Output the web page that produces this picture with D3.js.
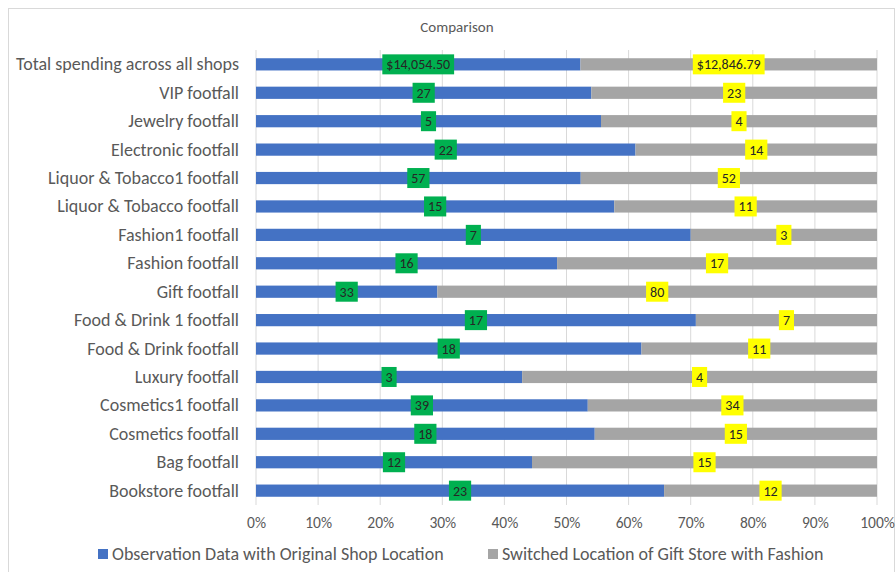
<!DOCTYPE html>
<html>
<head>
<meta charset="utf-8">
<script src="https://cdn.jsdelivr.net/npm/d3@7"></script>
<style>
  body { margin: 0; background: #fff; }
  svg { font-family: Calibri, Carlito, "Liberation Sans", "Open Sans", sans-serif; }
</style>
</head>
<body>
<svg id="chart" width="896" height="572"></svg>
<script>
var categories = [
  'Total spending across all shops', 'VIP footfall', 'Jewelry footfall', 'Electronic footfall',
  'Liquor & Tobacco1 footfall', 'Liquor & Tobacco footfall', 'Fashion1 footfall', 'Fashion footfall',
  'Gift footfall', 'Food & Drink 1 footfall', 'Food & Drink footfall', 'Luxury footfall',
  'Cosmetics1 footfall', 'Cosmetics footfall', 'Bag footfall', 'Bookstore footfall'
];
var original = [14054.50, 27, 5, 22, 57, 15, 7, 16, 33, 17, 18, 3, 39, 18, 12, 23];
var switched = [12846.79, 23, 4, 14, 52, 11, 3, 17, 80, 7, 11, 4, 34, 15, 15, 12];
var seriesNames = ['Observation Data with Original Shop Location', 'Switched Location of Gift Store with Fashion'];
var ticks = [0, 0.1, 0.2, 0.3, 0.4, 0.5, 0.6, 0.7, 0.8, 0.9, 1];

var colors = ['#4472c4', '#a5a5a5'];
var labelBg = ['#00b050', '#ffff00'];
var fontFam = 'Calibri, Carlito, "Liberation Sans", "Open Sans", sans-serif';

var svg = d3.select('#chart');

// outer frame
svg.append('rect')
  .attr('x', 8.5).attr('y', 8.5)
  .attr('width', 886).attr('height', 570)
  .attr('fill', 'none')
  .attr('stroke', '#d9d9d9');

svg.append('text')
  .attr('x', 457).attr('y', 32)
  .attr('text-anchor', 'middle')
  .attr('font-size', 15)
  .attr('fill', '#595959')
  .text('Comparison');

var x = d3.scaleLinear().domain([0, 1]).range([256, 877]);
var y = d3.scaleBand().domain(categories).range([50, 505]).paddingInner(0.57).paddingOuter(0.29);

// gridlines
svg.append('g')
  .selectAll('line')
  .data(ticks)
  .join('line')
  .attr('x1', function(d) { return x(d); })
  .attr('x2', function(d) { return x(d); })
  .attr('y1', 50).attr('y2', 505)
  .attr('stroke', '#d9d9d9')
  .attr('stroke-width', 1);

var rows = categories.map(function(c, i) {
  var total = original[i] + switched[i];
  return { name: c, a: original[i] / total, va: original[i], vb: switched[i] };
});

var bars = svg.append('g');
rows.forEach(function(r) {
  var y0 = y(r.name), bh = y.bandwidth();
  bars.append('rect')
    .attr('x', x(0)).attr('y', y0)
    .attr('width', x(r.a) - x(0)).attr('height', bh)
    .attr('fill', colors[0]);
  bars.append('rect')
    .attr('x', x(r.a)).attr('y', y0)
    .attr('width', x(1) - x(r.a)).attr('height', bh)
    .attr('fill', colors[1]);
});

function fmt(v, isMoney) {
  return isMoney ? '$' + d3.format(',.2f')(v) : String(v);
}

// data labels
var labels = svg.append('g').attr('font-size', 14);
rows.forEach(function(r, i) {
  var cy = y(r.name) + y.bandwidth() / 2;
  var money = i === 0;
  var spots = [
    { cx: x(r.a / 2), txt: fmt(r.va, money), bg: labelBg[0] },
    { cx: x((r.a + 1) / 2), txt: fmt(r.vb, money), bg: labelBg[1] }
  ];
  spots.forEach(function(s) {
    var g = labels.append('g');
    var t = g.append('text')
      .attr('x', s.cx).attr('y', cy + 5)
      .attr('text-anchor', 'middle')
      .attr('fill', '#262626')
      .text(s.txt);
    var w = t.node().getComputedTextLength() + 8;
    g.insert('rect', 'text')
      .attr('x', s.cx - w / 2).attr('y', cy - 10)
      .attr('width', w).attr('height', 20)
      .attr('fill', s.bg);
  });
});

// category axis
svg.append('g')
  .selectAll('text')
  .data(categories)
  .join('text')
  .attr('x', 239)
  .attr('y', function(d) { return y(d) + y.bandwidth() / 2 + 6; })
  .attr('text-anchor', 'end')
  .attr('font-size', 18)
  .attr('fill', '#595959')
  .text(function(d) { return d; });

// value axis
var xAxis = svg.append('g')
  .attr('transform', 'translate(0,505)')
  .call(d3.axisBottom(x).tickValues(ticks).tickFormat(d3.format('.0%')).tickSize(0).tickPadding(12));
xAxis.select('.domain').remove();
xAxis.selectAll('text')
  .attr('font-size', 15.5)
  .attr('font-family', fontFam)
  .attr('fill', '#595959');

// legend
var legend = svg.append('g').attr('font-size', 18).attr('fill', '#595959');
var legendX = [98, 488];
seriesNames.forEach(function(n, i) {
  legend.append('rect')
    .attr('x', legendX[i]).attr('y', 549)
    .attr('width', 10).attr('height', 10)
    .attr('fill', colors[i]);
  legend.append('text')
    .attr('x', legendX[i] + 14).attr('y', 560)
    .text(n);
});
</script>
</body>
</html>
